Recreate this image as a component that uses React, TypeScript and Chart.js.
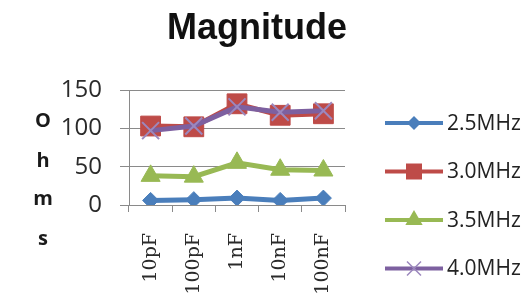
import React, { useEffect, useRef } from 'react';
import { Chart, registerables } from 'chart.js';

Chart.register(...registerables);

// ---- data ----
const categories = ['10pF', '100pF', '1nF', '10nF', '100nF'];
const seriesNames = ['2.5MHz', '3.0MHz', '3.5MHz', '4.0MHz'];
const s25 = [6, 7, 9, 6, 9];
const s30 = [103, 102, 132, 117, 119];
const s35 = [38, 37, 55, 46, 45];
const s40 = [97, 103, 128, 121, 123];
const yMin = 0;
const yMax = 150;
const yStep = 50;
const titleText = 'Magnitude';
const yAxisLetters = ['O', 'h', 'm', 's'];

const colors = ['#4A7EBB', '#BE4B48', '#98B954', '#7D60A0'];
const pointStyles = ['rectRot', 'rect', 'triangle', 'crossRot'];

function drawMarker(ctx: CanvasRenderingContext2D, style: string, x: number, y: number, color: string) {
  ctx.save();
  ctx.fillStyle = color;
  ctx.strokeStyle = color;
  ctx.beginPath();
  if (style === 'rectRot') {
    const r = 7;
    ctx.moveTo(x, y - r);
    ctx.lineTo(x + r, y);
    ctx.lineTo(x, y + r);
    ctx.lineTo(x - r, y);
    ctx.closePath();
    ctx.fill();
  } else if (style === 'rect') {
    const h = 8;
    ctx.rect(x - h, y - h, 2 * h, 2 * h);
    ctx.fill();
  } else if (style === 'triangle') {
    const r = 10;
    ctx.moveTo(x, y - r);
    ctx.lineTo(x + r * 0.866, y + r * 0.5);
    ctx.lineTo(x - r * 0.866, y + r * 0.5);
    ctx.closePath();
    ctx.fill();
  } else {
    const d = 7;
    ctx.lineWidth = 1.5;
    ctx.strokeStyle = '#9C88BE';
    ctx.moveTo(x - d, y - d);
    ctx.lineTo(x + d, y + d);
    ctx.moveTo(x + d, y - d);
    ctx.lineTo(x - d, y + d);
    ctx.stroke();
  }
  ctx.restore();
}

const overlayPlugin = {
  id: 'overlay',
  afterDraw(chart: any) {
    const ctx: CanvasRenderingContext2D = chart.ctx;
    ctx.save();
    // title
    ctx.font = 'bold 36px "Liberation Sans", Arial, sans-serif';
    ctx.fillStyle = '#111111';
    ctx.textAlign = 'center';
    ctx.textBaseline = 'alphabetic';
    ctx.fillText(titleText, 249, 31);
    // vertical axis title, letters stacked
    ctx.font = 'bold 20px "Open Sans", sans-serif';
    ctx.fillStyle = '#1a1a1a';
    const baselines = [119, 159, 197, 237];
    yAxisLetters.forEach((ch, i) => ctx.fillText(ch, 35, baselines[i]));
    // legend
    ctx.font = '21px "Open Sans", sans-serif';
    ctx.textAlign = 'left';
    ctx.textBaseline = 'middle';
    seriesNames.forEach((name, i) => {
      const y = 115 + i * 48.5;
      ctx.beginPath();
      ctx.strokeStyle = colors[i];
      ctx.lineWidth = 4;
      ctx.moveTo(377, y);
      ctx.lineTo(435, y);
      ctx.stroke();
      drawMarker(ctx, pointStyles[i], 406, y, colors[i]);
      ctx.fillStyle = '#222222';
      ctx.fillText(name, 439, y + 1);
    });
    ctx.restore();
  },
};

export default function App() {
  const canvasRef = useRef<HTMLCanvasElement>(null);

  useEffect(() => {
    document.documentElement.style.overflow = 'hidden';
    const canvas = canvasRef.current;
    if (!canvas) return;
    const seriesData = [s25, s30, s35, s40];
    const radii = [8, 14, 11, 12];
    const orders = [1, 2, 3, 0];
    const chart = new Chart(canvas, {
      type: 'line',
      data: {
        labels: categories,
        datasets: seriesNames.map((name, i) => ({
          label: name,
          data: seriesData[i],
          borderColor: colors[i],
          backgroundColor: colors[i],
          borderWidth: 5,
          tension: 0,
          pointStyle: pointStyles[i] as any,
          pointRadius: radii[i],
          pointBorderWidth: i === 3 ? 2 : 1,
          pointBorderColor: i === 3 ? '#9C88BE' : colors[i],
          pointBackgroundColor: colors[i],
          order: orders[i],
        })),
      },
      options: {
        animation: false,
        responsive: true,
        maintainAspectRatio: false,
        layout: { padding: { top: 82, right: 179, bottom: 0, left: 0 } },
        plugins: {
          legend: { display: false },
          title: { display: false },
          tooltip: { enabled: false },
        },
        scales: {
          x: {
            type: 'category',
            offset: true,
            grid: {
              offset: true,
              drawOnChartArea: false,
              drawTicks: true,
              tickLength: 7,
              color: '#8a8a8a',
              lineWidth: 1,
            },
            border: { display: true, color: '#8a8a8a', width: 1 },
            ticks: {
              autoSkip: false,
              minRotation: 90,
              maxRotation: 90,
              padding: 21,
              color: '#2a2a2a',
              font: { family: '"DejaVu Serif", serif', size: 19 },
            },
            afterFit: (scale: any) => {
              scale.height = 93;
            },
          },
          y: {
            min: yMin,
            max: yMax,
            grid: {
              drawTicks: true,
              tickLength: 9,
              color: '#8a8a8a',
              lineWidth: 1,
            },
            border: { display: true, color: '#8a8a8a', width: 1 },
            ticks: {
              stepSize: yStep,
              padding: 18,
              color: '#2a2a2a',
              font: { family: '"Open Sans", sans-serif', size: 24 },
            },
            afterFit: (scale: any) => {
              scale.width = 121;
            },
          },
        },
      },
      plugins: [overlayPlugin],
    });
    return () => chart.destroy();
  }, []);

  return (
    <div style={{ width: 516, height: 290, position: 'relative' }}>
      <canvas ref={canvasRef} />
    </div>
  );
}
